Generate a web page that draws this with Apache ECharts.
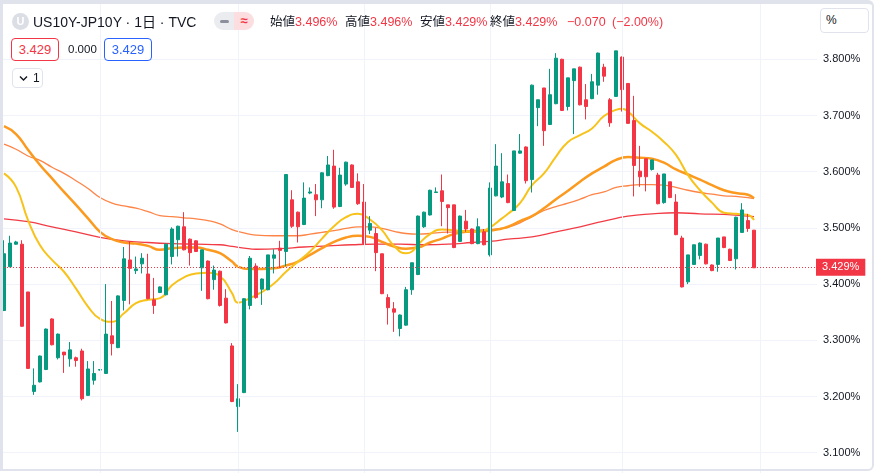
<!DOCTYPE html>
<html>
<head>
<meta charset="utf-8">
<script src="https://cdn.jsdelivr.net/npm/echarts@6/dist/echarts.min.js"></script>
<style>
html,body{margin:0;padding:0;width:878px;height:473px;overflow:hidden;background:#fff;
  font-family:"Liberation Sans","Noto Sans CJK JP",Arial,sans-serif;color:#131722;}
#chart{position:absolute;left:0;top:0;width:878px;height:473px;z-index:1;}
#frame{position:absolute;left:0;top:0;width:869px;height:465px;border-style:solid;border-color:#e0e3eb;
  border-width:4px 2px 2px 3px;border-radius:0 6px 6px 0;z-index:2;pointer-events:none;}
.h{position:absolute;z-index:3;white-space:nowrap;}
.ico{left:12px;top:13px;width:17px;height:17px;border-radius:50%;background:#dcdee5;color:#fff;
  font-size:11px;font-weight:bold;text-align:center;line-height:17px;}
.ttl{left:33px;top:12px;font-size:14px;line-height:20px;color:#131722;}
.pill{left:214px;top:12px;width:40px;height:18px;border-radius:9px;overflow:hidden;}
.pill .pl{position:absolute;left:0;top:0;width:20px;height:18px;background:#ebecf0;}
.pill .pl i{position:absolute;left:6px;top:7.5px;width:9px;height:3px;border-radius:2px;background:#8c909c;}
.pill .pr{position:absolute;left:20px;top:0;width:20px;height:18px;background:#fcdde0;color:#f23645;
  font-size:13px;font-weight:bold;text-align:center;line-height:18px;}
.kv{top:13px;font-size:12.5px;line-height:18px;color:#131722;}
.kv b{font-weight:normal;color:#f23645;}
.red{color:#f23645;}
.box{top:38px;height:21px;border-radius:4px;border:1px solid;text-align:center;line-height:21px;font-size:13px;background:#fff;}
.sp{left:68px;top:38px;line-height:23px;font-size:11.5px;color:#131722;}
.lg{left:12px;top:68px;width:29px;height:18px;border:1px solid #e0e3eb;border-radius:4px;background:#fff;}
.lg span{position:absolute;left:20px;top:0;line-height:18px;font-size:12px;color:#131722;}
.pct{left:820px;top:8px;width:47px;height:23px;border:1px solid #e0e3eb;border-radius:4px;background:#fff;
  font-size:12px;line-height:23px;}
.pct span{position:absolute;left:5px;top:0;}
</style>
</head>
<body>
<div id="chart"></div>
<div id="frame"></div>
<div class="h ico">U</div>
<div class="h ttl" id="ttl"></div>
<div class="h pill"><span class="pl"><i></i></span><span class="pr">≈</span></div>
<div class="h kv" style="left:270px" id="kvO"></div>
<div class="h kv" style="left:345px" id="kvH"></div>
<div class="h kv" style="left:420px" id="kvL"></div>
<div class="h kv" style="left:490px" id="kvC"></div>
<div class="h kv red" style="left:567px" id="kvChg"></div>
<div class="h kv red" style="left:612px" id="kvPct"></div>
<div class="h box" style="left:11px;width:46px;border-color:#f23645;color:#f23645" id="bx1"></div>
<div class="h sp" id="bxs"></div>
<div class="h box" style="left:104px;width:46px;border-color:#2962ff;color:#2962ff" id="bx2"></div>
<div class="h lg"><svg width="12" height="18" style="position:absolute;left:5px;top:0"><polyline points="2,7.5 5.5,11 9,7.5" fill="none" stroke="#131722" stroke-width="1.4"/></svg><span>1</span></div>
<div class="h pct"><span>%</span></div>
<script>
// ---------- data ----------
const symbolName = 'US10Y-JP10Y · 1日 · TVC';
const opens = [3.353,3.431,3.471,3.471,3.386,3.209,3.226,3.248,3.338,3.269,
  3.279,3.267,3.269,3.281,3.202,3.229,3.247,3.241,3.308,3.287,
  3.371,3.443,3.424,3.436,3.418,3.372,3.385,3.381,3.449,3.479,
  3.502,3.480,3.477,3.429,3.441,3.408,3.423,3.375,3.290,3.182,
  3.207,3.362,3.432,3.391,3.390,3.446,3.464,3.458,3.550,3.528,
  3.506,3.562,3.559,3.550,3.593,3.610,3.538,3.578,3.612,3.582,
  3.546,3.496,3.490,3.454,3.376,3.356,3.321,3.327,3.390,3.417,
  3.502,3.523,3.563,3.566,3.541,3.541,3.476,3.512,3.498,3.472,
  3.493,3.452,3.557,3.555,3.579,3.531,3.633,3.644,3.586,3.714,
  3.749,3.684,3.721,3.800,3.716,3.762,3.786,3.728,3.730,3.754,
  3.786,3.728,3.734,3.804,3.757,3.691,3.601,3.623,3.604,3.594,
  3.545,3.582,3.546,3.482,3.404,3.435,3.451,3.471,3.434,3.435,
  3.484,3.462,3.445,3.492,3.513,3.496];
const highs = [3.478,3.486,3.477,3.478,3.386,3.250,3.273,3.321,3.339,3.312,
  3.279,3.297,3.271,3.285,3.263,3.263,3.248,3.400,3.370,3.380,
  3.466,3.476,3.449,3.455,3.454,3.411,3.396,3.472,3.501,3.504,
  3.528,3.481,3.478,3.461,3.442,3.433,3.424,3.391,3.295,3.222,
  3.375,3.450,3.437,3.410,3.452,3.462,3.477,3.595,3.567,3.529,
  3.581,3.572,3.578,3.599,3.628,3.639,3.607,3.618,3.613,3.597,
  3.578,3.521,3.500,3.454,3.382,3.368,3.346,3.395,3.438,3.522,
  3.529,3.568,3.572,3.595,3.541,3.541,3.522,3.532,3.499,3.517,
  3.498,3.581,3.649,3.633,3.595,3.637,3.667,3.645,3.755,3.728,
  3.749,3.783,3.811,3.801,3.767,3.783,3.787,3.756,3.774,3.812,
  3.792,3.731,3.815,3.805,3.757,3.735,3.646,3.623,3.621,3.598,
  3.596,3.582,3.560,3.486,3.452,3.470,3.474,3.472,3.435,3.482,
  3.484,3.463,3.520,3.544,3.525,3.496];
const lows = [3.352,3.430,3.470,3.324,3.249,3.203,3.225,3.247,3.291,3.266,
  3.242,3.253,3.253,3.193,3.201,3.221,3.246,3.240,3.273,3.286,
  3.353,3.364,3.418,3.419,3.373,3.347,3.384,3.380,3.435,3.449,
  3.460,3.433,3.457,3.388,3.373,3.390,3.360,3.330,3.190,3.137,
  3.206,3.355,3.374,3.363,3.389,3.419,3.429,3.432,3.500,3.474,
  3.505,3.560,3.521,3.535,3.592,3.534,3.537,3.575,3.571,3.541,
  3.471,3.489,3.423,3.382,3.328,3.315,3.307,3.326,3.381,3.416,
  3.500,3.522,3.562,3.503,3.490,3.464,3.475,3.493,3.471,3.471,
  3.469,3.449,3.556,3.553,3.544,3.530,3.632,3.579,3.563,3.681,
  3.646,3.683,3.720,3.708,3.709,3.667,3.718,3.693,3.729,3.737,
  3.760,3.680,3.733,3.707,3.685,3.556,3.573,3.565,3.602,3.542,
  3.543,3.553,3.487,3.394,3.400,3.434,3.444,3.435,3.423,3.422,
  3.464,3.441,3.426,3.491,3.493,3.429];
const closes = [3.454,3.473,3.475,3.325,3.250,3.220,3.272,3.320,3.292,3.311,
  3.274,3.283,3.264,3.196,3.249,3.241,3.248,3.311,3.294,3.379,
  3.445,3.428,3.427,3.446,3.374,3.362,3.395,3.471,3.498,3.503,
  3.461,3.456,3.458,3.461,3.374,3.425,3.362,3.331,3.191,3.196,
  3.374,3.446,3.376,3.409,3.452,3.452,3.460,3.595,3.503,3.502,
  3.553,3.564,3.550,3.598,3.612,3.537,3.594,3.617,3.572,3.543,
  3.472,3.508,3.456,3.383,3.358,3.350,3.345,3.390,3.438,3.521,
  3.528,3.567,3.564,3.547,3.536,3.465,3.521,3.498,3.472,3.502,
  3.470,3.571,3.610,3.582,3.545,3.637,3.637,3.584,3.754,3.728,
  3.673,3.737,3.802,3.709,3.767,3.783,3.719,3.716,3.760,3.811,
  3.770,3.687,3.815,3.746,3.686,3.611,3.591,3.591,3.621,3.543,
  3.596,3.554,3.488,3.395,3.452,3.470,3.473,3.436,3.424,3.482,
  3.465,3.442,3.519,3.532,3.499,3.429];

// moving-average lines, sampled as [candle index, value]
const maFast = [[0,3.597],[2,3.573],[4,3.514],[6,3.469],[8,3.443],[10,3.422],[12,3.392],[14,3.360],
  [16,3.338],[18,3.333],[20,3.348],[22,3.366],[24,3.372],[26,3.375],[28,3.398],[30,3.412],[32,3.419],
  [34,3.420],[36,3.414],[38,3.384],[39,3.367],[41,3.375],[43,3.386],[45,3.401],[47,3.422],[49,3.440],
  [51,3.458],[53,3.481],[55,3.503],[57,3.519],[59,3.525],[61,3.515],[63,3.496],[65,3.468],[67,3.455],
  [68,3.458],[69,3.470],[71,3.489],[73,3.497],[75,3.496],[77,3.494],[79,3.493],[81,3.501],[83,3.517],
  [84,3.525],[86,3.544],[88,3.576],[90,3.597],[92,3.627],[94,3.653],[96,3.665],[98,3.677],[100,3.699],
  [102,3.710],[103,3.712],[104,3.707],[106,3.686],[108,3.671],[110,3.653],[112,3.630],[114,3.594],
  [116,3.567],[118,3.545],[120,3.527],[122,3.525],[124,3.523],[125,3.514]];
const maMid = [[0,3.681],[2,3.667],[4,3.639],[6,3.612],[8,3.588],[10,3.564],[12,3.541],[14,3.517],
  [16,3.493],[18,3.480],[20,3.474],[22,3.472],[24,3.468],[26,3.461],[28,3.464],[30,3.465],[32,3.465],
  [34,3.461],[36,3.455],[38,3.440],[39,3.431],[41,3.427],[43,3.427],[45,3.428],[47,3.433],[49,3.440],
  [51,3.452],[53,3.464],[55,3.475],[57,3.483],[59,3.486],[61,3.484],[63,3.475],[65,3.467],[67,3.463],
  [69,3.465],[71,3.474],[73,3.481],[75,3.489],[77,3.493],[79,3.494],[81,3.495],[83,3.499],[84,3.502],
  [86,3.512],[88,3.521],[90,3.535],[92,3.551],[94,3.566],[96,3.582],[98,3.597],[100,3.609],[102,3.621],
  [104,3.626],[106,3.625],[108,3.623],[110,3.616],[112,3.604],[114,3.595],[116,3.586],[118,3.576],
  [120,3.567],[122,3.562],[124,3.559],[125,3.553]];
const maSlow = [[0,3.649],[2,3.640],[4,3.628],[6,3.620],[8,3.608],[10,3.597],[12,3.584],[14,3.570],
  [16,3.554],[18,3.544],[20,3.539],[22,3.535],[24,3.529],[26,3.522],[28,3.520],[30,3.518],[32,3.516],
  [34,3.513],[36,3.507],[38,3.497],[40,3.491],[42,3.487],[45,3.486],[47,3.486],[49,3.486],[51,3.489],
  [53,3.492],[55,3.495],[57,3.499],[59,3.502],[61,3.502],[63,3.499],[65,3.494],[67,3.490],[69,3.489],
  [71,3.490],[73,3.492],[75,3.493],[77,3.495],[79,3.496],[81,3.497],[83,3.499],[84,3.501],[86,3.509],
  [88,3.520],[90,3.531],[92,3.538],[94,3.544],[96,3.551],[98,3.559],[100,3.564],[102,3.572],[104,3.575],
  [106,3.577],[108,3.577],[110,3.576],[112,3.572],[114,3.567],[116,3.563],[118,3.560],[120,3.557],
  [122,3.556],[124,3.554],[125,3.552]];
const maLong = [[0,3.516],[4,3.511],[8,3.502],[12,3.493],[16,3.483],[20,3.477],[24,3.474],[28,3.472],
  [32,3.471],[36,3.470],[38,3.467],[40,3.464],[42,3.462],[46,3.463],[50,3.466],[54,3.468],[58,3.470],
  [62,3.471],[66,3.471],[70,3.470],[74,3.471],[78,3.474],[82,3.477],[84,3.480],[88,3.484],[92,3.493],
  [96,3.502],[100,3.512],[104,3.521],[108,3.525],[112,3.527],[116,3.525],[120,3.524],[124,3.521],[125,3.520]];

const monthStarts = [16, 39, 60, 81, 103, 126];   // candle indices with vertical grid lines
const totalSlots = 136;                           // candles + empty space on the right
const yTicksMin = 3.0, yTicksMax = 3.9, yTickStep = 0.1;

// ---------- header text from data ----------
const last = closes.length - 1;
const chg = closes[last] - closes[last - 1];
const minus = v => (v < 0 ? '−' : '') + Math.abs(v);
document.getElementById('ttl').textContent = symbolName;
document.getElementById('kvO').innerHTML = '始値<b>' + opens[last].toFixed(3) + '%</b>';
document.getElementById('kvH').innerHTML = '高値<b>' + highs[last].toFixed(3) + '%</b>';
document.getElementById('kvL').innerHTML = '安値<b>' + lows[last].toFixed(3) + '%</b>';
document.getElementById('kvC').innerHTML = '終値<b>' + closes[last].toFixed(3) + '%</b>';
document.getElementById('kvChg').textContent = (chg < 0 ? '−' : '+') + Math.abs(chg).toFixed(3);
document.getElementById('kvPct').textContent = '(' + (chg < 0 ? '−' : '+') + Math.abs(chg / closes[last - 1] * 100).toFixed(2) + '%)';
document.getElementById('bx1').textContent = closes[last].toFixed(3);
document.getElementById('bxs').textContent = (0).toFixed(3);
document.getElementById('bx2').textContent = closes[last].toFixed(3);

// ---------- chart ----------
const cats = [];
for (let i = 0; i < totalSlots; i++) cats.push(String(i));
const ohlc = opens.map((o, i) => [o, closes[i], lows[i], highs[i]]);

const chart = echarts.init(document.getElementById('chart'), null, {renderer: 'canvas'});
const maLine = (data, color, width, opacity) => ({
  type: 'line', data: data, showSymbol: false, smooth: true, connectNulls: true, z: 1,
  silent: true, lineStyle: {color: color, width: width, opacity: opacity}
});
chart.setOption({
  animation: false,
  backgroundColor: 'transparent',
  grid: {left: 1, top: 3.1, width: 816, height: 505.8, outerBoundsMode: 'none', containLabel: false},
  xAxis: {
    type: 'category', data: cats, boundaryGap: true,
    axisLine: {show: false}, axisTick: {show: false}, axisLabel: {show: false}, splitLine: {show: false}
  },
  yAxis: {
    type: 'value', position: 'right', min: yTicksMin, max: yTicksMax, interval: yTickStep,
    axisLine: {show: false}, axisTick: {show: false},
    splitLine: {show: true, showMinLine: false, showMaxLine: false, lineStyle: {color: '#f0f3fa', width: 1}},
    axisLabel: {
      color: '#131722', fontSize: 11, margin: 6, fontFamily: 'Liberation Sans',
      showMinLabel: false, showMaxLabel: false,
      formatter: v => v.toFixed(3) + '%'
    }
  },
  series: [
    {
      type: 'line', data: [], z: 0, silent: true,
      markLine: {
        silent: true, symbol: ['none', 'none'], label: {show: false},
        lineStyle: {color: '#f0f3fa', width: 1, type: 'solid'},
        emphasis: {disabled: true},
        data: monthStarts.map(i => ({xAxis: i}))
      }
    },
    maLine(maLong, '#f0323c', 1.3, 0.95),
    maLine(maSlow, '#fd7d3c', 1.3, 0.95),
    maLine(maMid, '#fb9a1e', 2.5, 1),
    maLine(maFast, '#f7c31a', 2, 1),
    {
      type: 'candlestick', data: ohlc, barWidth: 4, z: 3,
      itemStyle: {color: '#089981', color0: '#f23645', borderColor: '#089981', borderColor0: '#f23645', borderWidth: 1},
      markLine: {
        silent: true, symbol: ['none', 'none'],
        lineStyle: {color: '#f23645', width: 1, type: [1, 2]},
        emphasis: {disabled: true},
        label: {
          show: true, position: 'end', distance: -1,
          formatter: closes[last].toFixed(3) + '%',
          backgroundColor: '#f23645', color: '#fff', fontSize: 11, fontFamily: 'Liberation Sans',
          padding: [3, 6, 3, 6]
        },
        data: [{yAxis: closes[last]}]
      }
    }
  ]
});
</script>
</body>
</html>
